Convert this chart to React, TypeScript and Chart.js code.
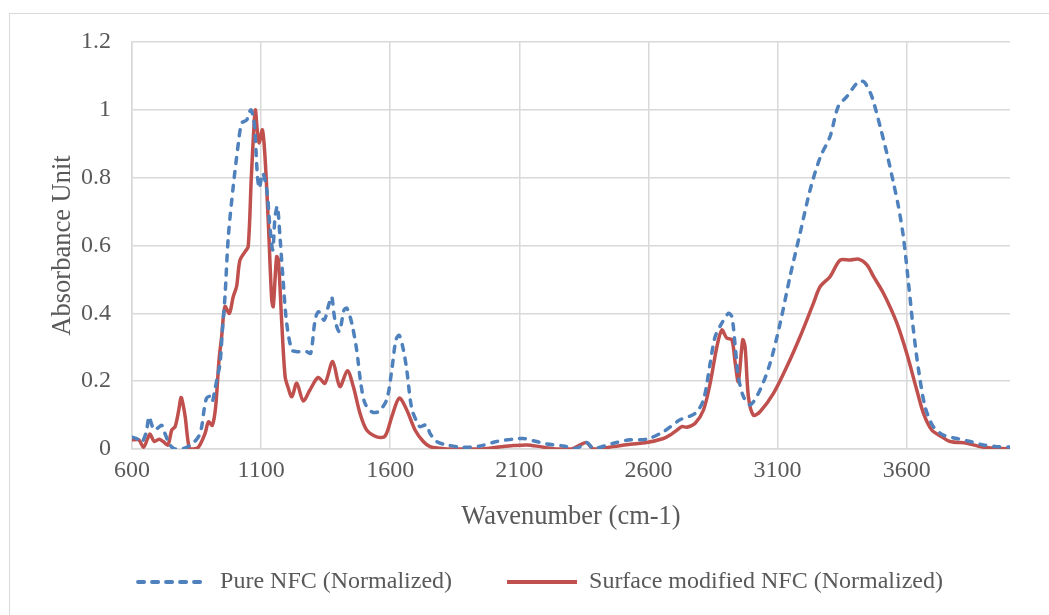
import React, { useEffect, useRef } from "react";
import { Chart, registerables } from "chart.js";

Chart.register(...registerables);

const xTicks = [600, 1100, 1600, 2100, 2600, 3100, 3600];

const seriesLabels = ["Pure NFC (Normalized)", "Surface modified NFC (Normalized)"];

const pureWavenumber = [
  600, 620, 638, 655, 666, 677, 686, 700, 715, 728, 741, 755, 767, 790, 812, 840, 860, 870, 880, 889,
  902, 911, 921, 930, 941, 950, 960, 973, 992, 1012, 1025, 1044, 1060, 1070, 1076, 1085, 1093, 1106, 1122, 1134,
  1145, 1154, 1163, 1173, 1186, 1199, 1219, 1238, 1277, 1292, 1309, 1322, 1344, 1360, 1373, 1386, 1403, 1421, 1432, 1451,
  1470, 1486, 1502, 1528, 1554, 1586, 1606, 1622, 1635, 1651, 1664, 1683, 1703, 1715, 1741, 1754, 1780, 1819, 1883, 1948,
  2012, 2077, 2115, 2167, 2206, 2270, 2322, 2361, 2387, 2464, 2529, 2593, 2658, 2722, 2781, 2813, 2839, 2858, 2884, 2910,
  2923, 2936, 2948, 2968, 2994, 3032, 3071, 3110, 3148, 3187, 3226, 3265, 3303, 3335, 3368, 3407, 3425, 3439, 3465, 3497,
  3523, 3549, 3568, 3587, 3607, 3626, 3646, 3671, 3703, 3742, 3794, 3846, 3897, 3949, 4000,
];
const pureAbsorbance = [
  0.035, 0.03, 0.02, 0.05, 0.095, 0.07, 0.056, 0.062, 0.07, 0.045, 0.02, 0.005, 0, 0, 0.005, 0.02, 0.04, 0.066, 0.12, 0.15,
  0.155, 0.14, 0.175, 0.21, 0.253, 0.35, 0.449, 0.626, 0.774, 0.902, 0.961, 0.97, 1.0, 0.975, 0.94, 0.813, 0.769, 0.813, 0.764, 0.656,
  0.587, 0.685, 0.715, 0.626, 0.489, 0.371, 0.292, 0.287, 0.287, 0.282, 0.38, 0.405, 0.38, 0.42, 0.449, 0.38, 0.346, 0.41, 0.415, 0.371,
  0.292, 0.194, 0.135, 0.11, 0.11, 0.145, 0.233, 0.322, 0.335, 0.292, 0.233, 0.12, 0.08, 0.066, 0.071, 0.046, 0.022, 0.012, 0.005, 0.009,
  0.022, 0.029, 0.031, 0.022, 0.015, 0.009, 0.002, 0.019, 0.002, 0.017, 0.027, 0.029, 0.051, 0.086, 0.105, 0.145, 0.253, 0.331, 0.371, 0.4,
  0.39, 0.302, 0.213, 0.154, 0.13, 0.174, 0.253, 0.371, 0.508, 0.636, 0.764, 0.86, 0.921, 1.01, 1.039, 1.079, 1.085, 1.079, 1.039, 0.951,
  0.872, 0.784, 0.715, 0.626, 0.489, 0.351, 0.233, 0.125, 0.066, 0.041, 0.031, 0.022, 0.012, 0.007, 0.006,
];

const modWavenumber = [
  600, 626, 645, 660, 670, 686, 705, 721, 739, 754, 767, 780, 790, 798, 806, 822, 838, 857, 883, 896,
  911, 924, 937, 947, 960, 977, 992, 1005, 1018, 1038, 1050, 1062, 1073, 1078, 1085, 1093, 1105, 1115, 1128, 1141,
  1147, 1160, 1167, 1180, 1193, 1205, 1219, 1238, 1263, 1289, 1321, 1347, 1377, 1405, 1434, 1457, 1483, 1509, 1548, 1580,
  1606, 1635, 1664, 1696, 1728, 1754, 1793, 1819, 1948, 2012, 2077, 2129, 2180, 2232, 2303, 2335, 2361, 2387, 2464, 2529,
  2593, 2658, 2684, 2709, 2729, 2748, 2781, 2813, 2839, 2865, 2884, 2903, 2923, 2936, 2948, 2965, 2974, 2987, 3006, 3032,
  3084, 3136, 3187, 3239, 3265, 3303, 3342, 3381, 3414, 3446, 3472, 3510, 3562, 3600, 3639, 3665, 3697, 3736, 3768, 3833,
  3897, 4000,
];
const modAbsorbance = [
  0.027, 0.027, 0.005, 0.03, 0.044, 0.022, 0.029, 0.022, 0.012, 0.056, 0.066, 0.11, 0.152, 0.13, 0.095, 0.002, 0, 0.005, 0.046, 0.08,
  0.07, 0.125, 0.263, 0.33, 0.42, 0.4, 0.449, 0.479, 0.557, 0.582, 0.597, 0.8, 0.961, 1.0, 0.941, 0.902, 0.941, 0.862, 0.666, 0.44,
  0.42, 0.567, 0.557, 0.371, 0.213, 0.18, 0.154, 0.194, 0.142, 0.174, 0.211, 0.194, 0.258, 0.184, 0.231, 0.184, 0.105, 0.056, 0.036, 0.038,
  0.095, 0.15, 0.115, 0.056, 0.022, 0.007, 0.002, 0, 0, 0.005, 0.01, 0.012, 0.007, 0.001, 0, 0.012, 0.019, 0, 0.007, 0.014,
  0.019, 0.031, 0.041, 0.055, 0.066, 0.064, 0.076, 0.115, 0.194, 0.302, 0.351, 0.327, 0.322, 0.253, 0.199, 0.322, 0.302, 0.154, 0.1, 0.11,
  0.164, 0.243, 0.331, 0.43, 0.479, 0.508, 0.557, 0.557, 0.56, 0.543, 0.508, 0.459, 0.371, 0.282, 0.174, 0.105, 0.056, 0.036, 0.022, 0.017,
  0.005, 0,
];

const FONT = "'Liberation Serif', 'Times New Roman', serif";
const TEXT = "#595959";
const GRID = "#d9d9d9";
const BLUE = "#4F81BD";
const RED = "#C0504D";

export default function App() {
  const ref = useRef<HTMLCanvasElement>(null);

  useEffect(() => {
    const canvas = ref.current;
    if (!canvas) return;
    const chart = new Chart(canvas, {
      type: "line",
      data: {
        datasets: [
          {
            label: seriesLabels[0],
            data: pureWavenumber.map((x, i) => ({ x, y: pureAbsorbance[i] })),
            borderColor: BLUE,
            backgroundColor: BLUE,
            borderWidth: 3.5,
            borderDash: [6, 8],
            borderCapStyle: "round",
            pointRadius: 0,
            tension: 0.3,
            fill: false,
          },
          {
            label: seriesLabels[1],
            data: modWavenumber.map((x, i) => ({ x, y: modAbsorbance[i] })),
            borderColor: RED,
            backgroundColor: RED,
            borderWidth: 3.5,
            pointRadius: 0,
            tension: 0.3,
            fill: false,
          },
        ],
      },
      options: {
        responsive: false,
        animation: false,
        events: [],
        layout: { padding: { left: 32, right: 0, top: 42, bottom: 11 } },
        scales: {
          x: {
            type: "linear",
            min: 600,
            max: 4000,
            afterBuildTicks: (s: any) => {
              s.ticks = xTicks.map((v) => ({ value: v }));
            },
            afterFit: (s: any) => {
              s.height = 66;
            },
            ticks: {
              font: { family: FONT, size: 24 },
              color: TEXT,
              padding: 7,
              maxRotation: 0,
              autoSkip: false,
              callback: (v: any) => String(v),
            },
            grid: { color: GRID, lineWidth: 1.5, drawTicks: false },
            border: { color: GRID, width: 1.5 },
            title: {
              display: true,
              text: "Wavenumber (cm-1)",
              font: { family: FONT, size: 26.5 },
              color: TEXT,
              padding: { top: 0, bottom: -18 },
            },
          },
          y: {
            min: 0,
            max: 1.2,
            afterFit: (s: any) => {
              s.width = 100;
            },
            ticks: {
              stepSize: 0.2,
              font: { family: FONT, size: 24 },
              color: TEXT,
              padding: 21,
              callback: (v: any) => String(Number(Number(v).toFixed(1))),
            },
            grid: { color: GRID, lineWidth: 1.5, drawTicks: false },
            border: { color: GRID, width: 1.5 },
            title: {
              display: true,
              text: "Absorbance Unit",
              font: { family: FONT, size: 26.5 },
              color: TEXT,
              padding: { top: 15, bottom: 0 },
            },
          },
          yRight: {
            position: "right",
            display: true,
            afterFit: (s: any) => {
              s.width = 39;
            },
            ticks: { display: false },
            grid: { display: false, drawTicks: false },
            border: { display: false },
          },
        },
        plugins: {
          legend: {
            display: true,
            position: "bottom",
            labels: {
              usePointStyle: true,
              pointStyle: "line",
              pointStyleWidth: 70,
              padding: 55,
              color: TEXT,
              font: { family: FONT, size: 24 },
              generateLabels: (c: any) =>
                c.data.datasets.map((ds: any, i: number) => ({
                  text: ds.label,
                  fillStyle: ds.borderColor,
                  strokeStyle: ds.borderColor,
                  lineWidth: 4,
                  lineDash: ds.borderDash || [],
                  lineCap: ds.borderCapStyle || "butt",
                  pointStyle: "line",
                  fontColor: TEXT,
                  hidden: false,
                  datasetIndex: i,
                })),
            },
          },
          tooltip: { enabled: false },
        },
      } as any,
    });
    return () => chart.destroy();
  }, []);

  return (
    <div
      style={{
        position: "fixed",
        left: 0,
        top: 0,
        width: 1049,
        height: 615,
        overflow: "hidden",
        background: "#fff",
      }}
    >
      <div
        style={{
          position: "absolute",
          left: 9,
          top: 13,
          width: 1100,
          height: 700,
          border: "1px solid #d9d9d9",
          boxSizing: "border-box",
        }}
      />
      <canvas
        ref={ref}
        width={1049}
        height={615}
        style={{ position: "absolute", left: 0, top: 0 }}
      />
    </div>
  );
}
